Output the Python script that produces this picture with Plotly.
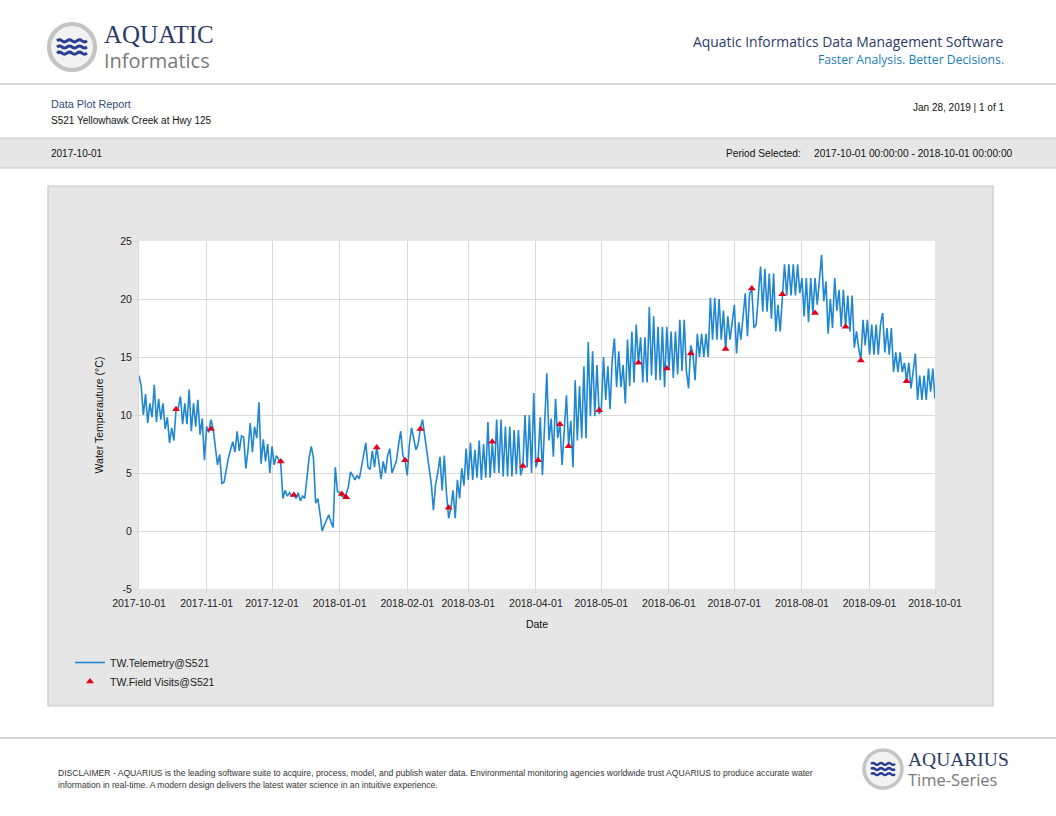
import pandas as pd
import plotly.graph_objects as go

W, H = 1056, 816

# ---------------- data ----------------
start_date = "2017-10-01"
end_date = "2018-10-01"

# daily water temperature readings (deg C), 2017-10-01 .. 2018-10-01
water_temp = [
    13.4, 12.5, 10.0, 11.8, 9.3, 11.0, 9.8, 12.6, 9.4, 11.4,
    9.6, 11.0, 8.8, 9.8, 7.6, 8.9, 7.8, 10.5, 10.6, 11.6,
    9.2, 11.0, 9.2, 12.2, 8.6, 11.0, 9.0, 11.3, 8.3, 9.7,
    6.1, 9.0, 8.5, 9.6, 8.8, 7.1, 5.7, 6.6, 4.1, 4.2,
    5.4, 6.3, 7.0, 7.7, 6.8, 8.6, 6.9, 8.2, 8.1, 5.4,
    7.0, 9.3, 6.8, 9.0, 8.0, 11.1, 5.8, 7.9, 6.0, 7.5,
    5.0, 7.3, 5.7, 6.5, 6.2, 5.8, 2.8, 3.5, 3.0, 3.3,
    3.0, 3.2, 2.8, 3.3, 2.6, 3.0, 2.8, 4.8, 6.3, 7.3,
    6.3, 2.4, 2.8, 1.5, 0.0, 0.5, 1.0, 1.4, 0.8, 0.3,
    5.5, 3.4, 3.3, 3.0, 2.9, 3.2, 3.8, 5.1, 4.8, 4.4,
    4.8, 4.5, 5.5, 6.4, 7.6, 5.5, 5.3, 6.9, 5.5, 7.3,
    6.1, 4.5, 6.0, 5.0, 6.5, 7.1, 5.0, 5.5, 6.0, 7.4,
    8.6, 6.5, 6.1, 4.8, 7.5, 8.9, 8.0, 7.0, 7.5, 8.8,
    9.6, 8.3, 7.0, 5.3, 4.1, 1.8, 4.0, 5.0, 6.4, 3.5,
    6.5, 3.2, 1.1, 2.0, 3.5, 1.1, 4.4, 2.8, 5.4, 3.9,
    7.1, 4.4, 7.6, 4.4, 7.0, 4.6, 7.8, 4.4, 7.5, 4.6,
    9.4, 4.6, 7.6, 5.0, 9.6, 5.0, 9.6, 4.7, 9.0, 4.7,
    9.0, 4.7, 8.7, 4.9, 8.7, 4.8, 5.5, 10.0, 5.5, 10.0,
    5.0, 11.9, 5.5, 6.1, 9.8, 4.8, 9.7, 13.6, 7.8, 9.7,
    6.4, 11.4, 8.0, 9.3, 5.7, 9.0, 11.7, 7.4, 9.5, 5.5,
    13.0, 7.8, 12.5, 8.0, 14.2, 8.0, 16.3, 9.9, 15.5, 9.9,
    14.3, 10.1, 10.5, 15.0, 11.3, 14.2, 10.5, 14.8, 16.6, 12.4,
    15.5, 12.4, 14.3, 11.0, 16.5, 12.5, 17.2, 12.8, 17.8, 14.4,
    16.7, 12.8, 16.7, 12.8, 19.3, 13.4, 18.5, 13.0, 17.6, 13.0,
    17.6, 12.4, 17.6, 13.9, 17.2, 13.2, 17.2, 13.5, 18.2, 13.8,
    18.2, 13.8, 12.3, 16.0, 15.3, 13.0, 17.0, 15.0, 17.0, 15.0,
    17.0, 15.0, 20.1, 16.5, 20.1, 16.5, 20.0, 16.5, 19.0, 15.6,
    18.5, 16.5, 18.0, 19.5, 15.3, 18.0, 16.5, 18.5, 20.5, 16.8,
    20.5, 20.8, 17.5, 17.8, 20.5, 22.8, 18.9, 22.6, 18.9, 22.2,
    18.3, 22.2, 17.2, 19.5, 17.2, 20.3, 23.0, 20.3, 23.0, 20.3,
    23.0, 20.3, 23.0, 20.5, 21.8, 18.5, 21.8, 18.0, 21.8, 18.8,
    21.8, 19.5, 21.8, 23.8, 19.8, 21.5, 17.0, 20.0, 17.5, 21.8,
    19.0, 20.8, 17.6, 20.8, 17.5, 20.3, 17.2, 20.3, 15.8, 17.2,
    15.8, 14.7, 18.2, 16.0, 18.2, 15.2, 17.8, 15.2, 17.8, 15.2,
    17.8, 18.8, 15.4, 17.5, 15.2, 17.5, 13.7, 15.4, 13.7, 15.4,
    13.7, 14.5, 12.9, 14.5, 12.3, 14.0, 15.3, 11.3, 13.4, 11.3,
    13.4, 11.3, 14.0, 12.0, 14.0, 11.4,
]
telemetry_dates = pd.date_range(start_date, periods=len(water_temp), freq="D")

visit_dates = [
    "2017-10-18", "2017-11-03", "2017-12-05", "2017-12-11", "2018-01-02",
    "2018-01-04", "2018-01-18", "2018-01-31", "2018-02-07", "2018-02-20",
    "2018-03-12", "2018-03-26", "2018-04-02", "2018-04-12", "2018-04-16",
    "2018-04-30", "2018-05-18", "2018-05-31", "2018-06-11", "2018-06-27",
    "2018-07-09", "2018-07-23", "2018-08-07", "2018-08-21", "2018-08-28",
    "2018-09-18",
]
visit_values = [
    10.5, 8.8, 6.0, 3.1, 3.2,
    2.9, 7.2, 6.1, 8.8, 2.0,
    7.7, 5.6, 6.1, 9.2, 7.3,
    10.4, 14.5, 14.0, 15.3, 15.7,
    20.9, 20.4, 18.8, 17.6, 14.7,
    12.9,
]

y_ticks = [-5, 0, 5, 10, 15, 20, 25]

# ---------------- helpers ----------------
def px(x):
    return x / W

def py(y):
    return 1 - y / H

FONT = "Liberation Sans, Arial, sans-serif"
NAVY = "#2b3a67"
GRID = "#d9d9d9"
BORDER = "#c8c8c8"

fig = go.Figure()

fig.add_trace(go.Scatter(
    x=telemetry_dates, y=water_temp, mode="lines",
    name="TW.Telemetry@S521",
    line=dict(color="#1f86d1", width=1.6),
))
fig.add_trace(go.Scatter(
    x=pd.to_datetime(visit_dates), y=visit_values, mode="markers",
    name="TW.Field Visits@S521",
    marker=dict(symbol="triangle-up", color="#e3001b", size=7),
))

shapes = []
# header separator
shapes.append(dict(type="line", xref="paper", yref="paper",
                   x0=0, x1=1, y0=py(84), y1=py(84),
                   line=dict(color=BORDER, width=1.5)))
# grey band
shapes.append(dict(type="rect", xref="paper", yref="paper",
                   x0=-0.01, x1=1.01, y0=py(168), y1=py(138),
                   fillcolor="#e6e6e6", line=dict(color=BORDER, width=1.2),
                   layer="below"))
# chart panel
shapes.append(dict(type="rect", xref="paper", yref="paper",
                   x0=px(48), x1=px(993), y0=py(706), y1=py(186),
                   fillcolor="#e6e6e6", line=dict(color=BORDER, width=1.2),
                   layer="below"))
# white plotting area
shapes.append(dict(type="rect", xref="paper", yref="paper",
                   x0=px(139), x1=px(935), y0=py(589), y1=py(241),
                   fillcolor="white", line=dict(width=0),
                   layer="below"))
# footer separator
shapes.append(dict(type="line", xref="paper", yref="paper",
                   x0=0, x1=1, y0=py(738), y1=py(738),
                   line=dict(color=BORDER, width=1.5)))


def logo(cx, cy, r, wave_w, lw):
    out = []
    out.append(dict(type="circle", xref="paper", yref="paper",
                    x0=px(cx - r), x1=px(cx + r), y0=py(cy + r), y1=py(cy - r),
                    fillcolor="#f2f2f2", line=dict(color="#c4c4c4", width=lw * 1.4)))
    for k in (-1, 0, 1):
        yy = cy + k * r * 0.27
        x0 = cx - wave_w / 2
        step = wave_w / 6
        amp = r * 0.09
        p = f"M{px(x0)},{py(yy)}"
        for i in range(6):
            xa = x0 + step * (i + 0.5)
            xb = x0 + step * (i + 1)
            ya = yy - amp if i % 2 == 0 else yy + amp
            p += f" Q{px(xa)},{py(ya)} {px(xb)},{py(yy)}"
        out.append(dict(type="path", xref="paper", yref="paper", path=p,
                        line=dict(color="#2a3f94", width=lw)))
    return out

shapes += logo(72, 47, 23, 30, 3)
shapes += logo(883, 769, 19, 24, 2.5)

ann = []

def text(x, y, s, size, color="#222222", xanchor="left", family=FONT, **kw):
    ann.append(dict(x=px(x), y=py(y), xref="paper", yref="paper", text=s,
                    showarrow=False, xanchor=xanchor, yanchor="middle",
                    font=dict(size=size, color=color, family=family), **kw))

SERIF = "Liberation Serif, Times New Roman, serif"
OPEN = "Open Sans, Liberation Sans, sans-serif"
text(102, 35, "AQUATIC", 25, NAVY, family=SERIF)
text(102, 61, "Informatics", 20, "#7a7a7a", family=OPEN)
text(1006, 41, "Aquatic Informatics Data Management Software", 13.9, NAVY,
     xanchor="right", family=OPEN)
text(1006, 60, "Faster Analysis. Better Decisions.", 12.2, "#1b7db8",
     xanchor="right", family=OPEN)
text(49, 104, "Data Plot Report", 10.8, "#2e4a7a")
text(49, 120, "S521 Yellowhawk Creek at Hwy 125", 10, "#111111")
text(1006, 108, "Jan 28, 2019 | 1 of 1", 10, "#111111", xanchor="right")
text(49, 153, "2017-10-01", 10, "#111111")
text(803, 153, "Period Selected:", 10.2, "#111111", xanchor="right")
text(1015, 153, "2017-10-01 00:00:00 - 2018-10-01 00:00:00", 10.2, "#111111", xanchor="right")
text(56, 773, "DISCLAIMER - AQUARIUS is the leading software suite to acquire, process, model, and publish water data. "
     "Environmental monitoring agencies worldwide trust AQUARIUS to produce accurate water", 8.6, "#333333")
text(56, 785, "information in real-time. A modern design delivers the latest water science in an intuitive experience.",
     8.6, "#333333")
text(906, 759, "AQUARIUS", 19.5, NAVY, family=SERIF)
text(906, 779, "Time-Series", 16.5, "#7a7a7a", family=OPEN)

fig.update_layout(
    width=W, height=H, autosize=False,
    margin=dict(l=0, r=0, t=0, b=0, pad=0, autoexpand=False),
    paper_bgcolor="white",
    plot_bgcolor="rgba(0,0,0,0)",
    font=dict(family=FONT, size=10.5, color="#222222"),
    showlegend=True,
    legend=dict(x=px(70), y=py(648), xanchor="left", yanchor="top",
                bgcolor="rgba(0,0,0,0)", font=dict(size=10.5, color="#222222"),
                tracegroupgap=0, itemwidth=30),
    shapes=shapes,
    annotations=ann,
    xaxis=dict(
        domain=[px(139), px(935)],
        range=[start_date, end_date],
        type="date", automargin=False,
        dtick="M1", tick0=start_date, tickformat="%Y-%m-%d",
        showgrid=True, gridcolor=GRID, gridwidth=1,
        zeroline=False, showline=False,
        ticks="outside", ticklen=4, tickcolor=GRID,
        tickfont=dict(size=10.5, color="#222222"),
        title=dict(text="Date", font=dict(size=10.5, color="#111111"), standoff=13),
        anchor="y",
    ),
    yaxis=dict(
        domain=[py(589), py(241)],
        range=[-5, 25], automargin=False,
        tickmode="array", tickvals=y_ticks, ticktext=[str(v) for v in y_ticks],
        showgrid=True, gridcolor=GRID, gridwidth=1,
        zeroline=False, showline=True, linecolor=GRID,
        ticks="outside", ticklen=4, tickcolor=GRID,
        tickfont=dict(size=10.5, color="#222222"),
        title=dict(text="Water Temperauture (°C)", font=dict(size=10.5, color="#111111"), standoff=14),
        anchor="x",
    ),
)

fig.write_html("out.html", config={"displayModeBar": False},
               post_script="document.body.style.margin='0px';")
